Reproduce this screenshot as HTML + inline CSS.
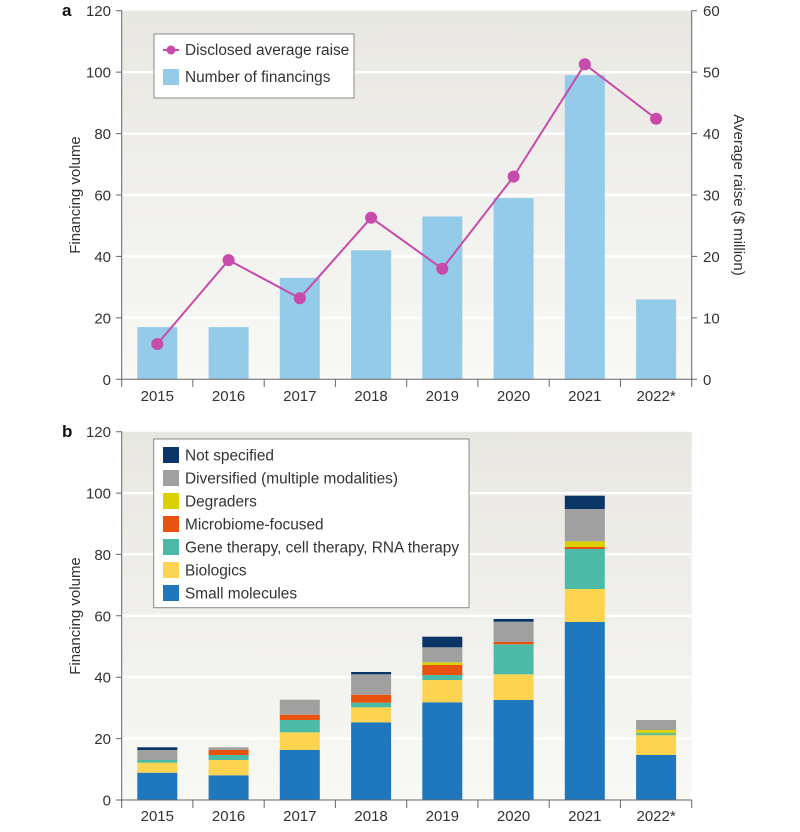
<!DOCTYPE html>
<html><head><meta charset="utf-8"><style>
body{margin:0;background:#fff}
svg text{font-family:"Liberation Sans",sans-serif;fill:#333}
</style></head><body>
<svg width="800" height="827" viewBox="0 0 800 827" xmlns="http://www.w3.org/2000/svg">
<defs>
<linearGradient id="bg" x1="0" y1="0" x2="0" y2="1"><stop offset="0" stop-color="#e8e7e2"/><stop offset="1" stop-color="#f8f8f5"/></linearGradient>
</defs>
<!-- Panel a -->
<rect x="121.7" y="10.7" width="570" height="368.6" fill="url(#bg)"/>
<g stroke="#fff" stroke-width="2.5">
<line x1="122" x2="691" y1="317.9" y2="317.9"/><line x1="122" x2="691" y1="256.4" y2="256.4"/><line x1="122" x2="691" y1="195" y2="195"/><line x1="122" x2="691" y1="133.6" y2="133.6"/><line x1="122" x2="691" y1="72.1" y2="72.1"/>
</g>
<g fill="#93cbe8">
<rect x="137.3" y="327.1" width="40" height="52.2"/><rect x="208.6" y="327.1" width="40" height="52.2"/><rect x="279.8" y="277.9" width="40" height="101.4"/><rect x="351.1" y="250.3" width="40" height="129"/><rect x="422.3" y="216.5" width="40" height="162.8"/><rect x="493.6" y="198.1" width="40" height="181.2"/><rect x="564.8" y="75.2" width="40" height="304.1"/><rect x="636.1" y="299.4" width="40" height="79.9"/>
</g>
<polyline fill="none" stroke="#c84aaa" stroke-width="2" points="157.3,344 228.6,260.1 299.8,298.2 371.1,217.7 442.3,268.7 513.6,176.6 584.8,64.2 656.1,118.8"/>
<g fill="#c84aaa"><circle cx="157.3" cy="344" r="6"/><circle cx="228.6" cy="260.1" r="6"/><circle cx="299.8" cy="298.2" r="6"/><circle cx="371.1" cy="217.7" r="6"/><circle cx="442.3" cy="268.7" r="6"/><circle cx="513.6" cy="176.6" r="6"/><circle cx="584.8" cy="64.2" r="6"/><circle cx="656.1" cy="118.8" r="6"/></g>
<g stroke="#666" stroke-width="1" fill="none">
<line x1="121.7" y1="10.7" x2="121.7" y2="379.3"/><line x1="121.7" y1="379.3" x2="691.7" y2="379.3"/><line x1="691.7" y1="10.7" x2="691.7" y2="379.3"/>
<path d="M116 10.7H122M116 72.1H122M116 133.6H122M116 195H122M116 256.4H122M116 317.9H122M116 379.3H122"/>
<path d="M691.7 10.7H697M691.7 72.1H697M691.7 133.6H697M691.7 195H697M691.7 256.4H697M691.7 317.9H697M691.7 379.3H697"/>
<path d="M121.7 379.3V387M192.9 379.3V387M264.2 379.3V387M335.4 379.3V387M406.7 379.3V387M477.9 379.3V387M549.2 379.3V387M620.4 379.3V387M691.7 379.3V387"/>
</g>
<g font-size="15" text-anchor="end">
<text x="111" y="16">120</text><text x="111" y="77.5">100</text><text x="111" y="139">80</text><text x="111" y="200.5">60</text><text x="111" y="262">40</text><text x="111" y="323.5">20</text><text x="111" y="385">0</text>
</g>
<g font-size="15">
<text x="703" y="16">60</text><text x="703" y="77.5">50</text><text x="703" y="139">40</text><text x="703" y="200.5">30</text><text x="703" y="262">20</text><text x="703" y="323.5">10</text><text x="703" y="385">0</text>
</g>
<g font-size="15" text-anchor="middle">
<text x="157.3" y="401">2015</text><text x="228.6" y="401">2016</text><text x="299.8" y="401">2017</text><text x="371.1" y="401">2018</text><text x="442.3" y="401">2019</text><text x="513.6" y="401">2020</text><text x="584.8" y="401">2021</text><text x="656.1" y="401">2022*</text>
</g>
<text x="80" y="195" font-size="15" text-anchor="middle" transform="rotate(-90 80 195)">Financing volume</text>
<text x="734" y="195" font-size="15" text-anchor="middle" transform="rotate(90 734 195)">Average raise ($ million)</text>
<text x="62" y="16" font-size="17" font-weight="bold" style="fill:#111">a</text>
<rect x="154" y="34" width="200" height="64" fill="#fff" stroke="#888"/>
<line x1="163" x2="179" y1="50" y2="50" stroke="#c84aaa" stroke-width="2"/><circle cx="171" cy="50" r="4.5" fill="#c84aaa"/>
<text x="185" y="55" font-size="15.4">Disclosed average raise</text>
<rect x="163" y="69" width="16" height="16" fill="#93cbe8"/>
<text x="185" y="82" font-size="15.4">Number of financings</text>

<!-- Panel b -->
<rect x="121.7" y="431.7" width="570" height="368.3" fill="url(#bg)"/>
<g stroke="#fff" stroke-width="2.5">
<line x1="122" x2="691" y1="738.6" y2="738.6"/><line x1="122" x2="691" y1="677.2" y2="677.2"/><line x1="122" x2="691" y1="615.8" y2="615.8"/><line x1="122" x2="691" y1="554.4" y2="554.4"/><line x1="122" x2="691" y1="493.1" y2="493.1"/>
</g>
<rect x="137.3" y="772.7" width="40" height="27.3" fill="#1f78bd"/><rect x="137.3" y="762.7" width="40" height="10" fill="#fcd450"/><rect x="137.3" y="760" width="40" height="2.7" fill="#4bbba8"/><rect x="137.3" y="750" width="40" height="10" fill="#a0a0a0"/><rect x="137.3" y="747.3" width="40" height="2.7" fill="#0b3566"/>
<rect x="208.6" y="775.3" width="40" height="24.7" fill="#1f78bd"/><rect x="208.6" y="760" width="40" height="15.3" fill="#fcd450"/><rect x="208.6" y="755" width="40" height="5" fill="#4bbba8"/><rect x="208.6" y="750" width="40" height="5" fill="#e8530f"/><rect x="208.6" y="747.3" width="40" height="2.7" fill="#a0a0a0"/>
<rect x="279.8" y="750" width="40" height="50" fill="#1f78bd"/><rect x="279.8" y="732.3" width="40" height="17.7" fill="#fcd450"/><rect x="279.8" y="720" width="40" height="12.3" fill="#4bbba8"/><rect x="279.8" y="714.7" width="40" height="5.3" fill="#e8530f"/><rect x="279.8" y="699.7" width="40" height="15" fill="#a0a0a0"/>
<rect x="351.1" y="722.3" width="40" height="77.7" fill="#1f78bd"/><rect x="351.1" y="707.3" width="40" height="15" fill="#fcd450"/><rect x="351.1" y="702.7" width="40" height="4.6" fill="#4bbba8"/><rect x="351.1" y="694.7" width="40" height="8" fill="#e8530f"/><rect x="351.1" y="674.3" width="40" height="20.4" fill="#a0a0a0"/><rect x="351.1" y="672" width="40" height="2.3" fill="#0b3566"/>
<rect x="422.3" y="702.3" width="40" height="97.7" fill="#1f78bd"/><rect x="422.3" y="680" width="40" height="22.3" fill="#fcd450"/><rect x="422.3" y="675" width="40" height="5" fill="#4bbba8"/><rect x="422.3" y="665" width="40" height="10" fill="#e8530f"/><rect x="422.3" y="662.3" width="40" height="2.7" fill="#dcd100"/><rect x="422.3" y="647.3" width="40" height="15" fill="#a0a0a0"/><rect x="422.3" y="636.7" width="40" height="10.6" fill="#0b3566"/>
<rect x="493.6" y="700" width="40" height="100" fill="#1f78bd"/><rect x="493.6" y="674.3" width="40" height="25.7" fill="#fcd450"/><rect x="493.6" y="644.3" width="40" height="30" fill="#4bbba8"/><rect x="493.6" y="642" width="40" height="2.3" fill="#e8530f"/><rect x="493.6" y="621.7" width="40" height="20.3" fill="#a0a0a0"/><rect x="493.6" y="619" width="40" height="2.7" fill="#0b3566"/>
<rect x="564.8" y="622" width="40" height="178" fill="#1f78bd"/><rect x="564.8" y="589" width="40" height="33" fill="#fcd450"/><rect x="564.8" y="549" width="40" height="40" fill="#4bbba8"/><rect x="564.8" y="547" width="40" height="2" fill="#e8530f"/><rect x="564.8" y="541.3" width="40" height="5.7" fill="#dcd100"/><rect x="564.8" y="509" width="40" height="32.3" fill="#a0a0a0"/><rect x="564.8" y="495.7" width="40" height="13.3" fill="#0b3566"/>
<rect x="636.1" y="755" width="40" height="45" fill="#1f78bd"/><rect x="636.1" y="735.3" width="40" height="19.7" fill="#fcd450"/><rect x="636.1" y="732.7" width="40" height="2.6" fill="#6cbf84"/><rect x="636.1" y="730" width="40" height="2.7" fill="#dcd100"/><rect x="636.1" y="720" width="40" height="10" fill="#a0a0a0"/>
<g stroke="#666" stroke-width="1" fill="none">
<line x1="121.7" y1="431.7" x2="121.7" y2="800"/><line x1="121.7" y1="800" x2="691.7" y2="800"/>
<path d="M116 431.7H122M116 493.1H122M116 554.4H122M116 615.8H122M116 677.2H122M116 738.6H122M116 800H122"/>
<path d="M121.7 800V808M192.9 800V808M264.2 800V808M335.4 800V808M406.7 800V808M477.9 800V808M549.2 800V808M620.4 800V808M691.7 800V808"/>
</g>
<g font-size="15" text-anchor="end">
<text x="111" y="437">120</text><text x="111" y="498.5">100</text><text x="111" y="560">80</text><text x="111" y="621.5">60</text><text x="111" y="682.5">40</text><text x="111" y="744">20</text><text x="111" y="805.5">0</text>
</g>
<g font-size="15" text-anchor="middle">
<text x="157.3" y="821">2015</text><text x="228.6" y="821">2016</text><text x="299.8" y="821">2017</text><text x="371.1" y="821">2018</text><text x="442.3" y="821">2019</text><text x="513.6" y="821">2020</text><text x="584.8" y="821">2021</text><text x="656.1" y="821">2022*</text>
</g>
<text x="80" y="616" font-size="15" text-anchor="middle" transform="rotate(-90 80 616)">Financing volume</text>
<text x="62" y="437" font-size="17" font-weight="bold" style="fill:#111">b</text>
<rect x="153.7" y="439" width="315.3" height="168.7" fill="#fff" stroke="#888"/>
<g font-size="15.4">
<rect x="163" y="447" width="16" height="16" fill="#0b3566"/><text x="185" y="460.5">Not specified</text>
<rect x="163" y="470" width="16" height="16" fill="#a0a0a0"/><text x="185" y="483.5">Diversified (multiple modalities)</text>
<rect x="163" y="493" width="16" height="16" fill="#dcd100"/><text x="185" y="506.5">Degraders</text>
<rect x="163" y="516" width="16" height="16" fill="#e8530f"/><text x="185" y="529.5">Microbiome-focused</text>
<rect x="163" y="539" width="16" height="16" fill="#4bbba8"/><text x="185" y="552.5">Gene therapy, cell therapy, RNA therapy</text>
<rect x="163" y="562" width="16" height="16" fill="#fcd450"/><text x="185" y="575.5">Biologics</text>
<rect x="163" y="585" width="16" height="16" fill="#1f78bd"/><text x="185" y="598.5">Small molecules</text>
</g>
</svg>
</body></html>
